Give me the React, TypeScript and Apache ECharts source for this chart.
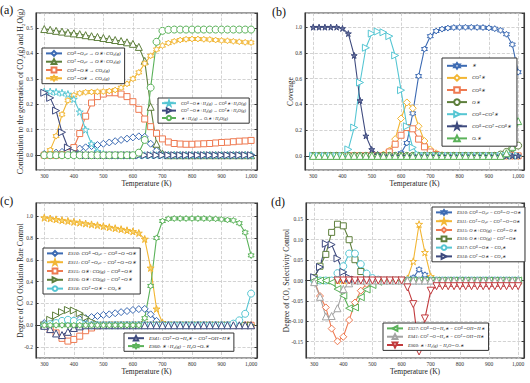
import { useEffect, useRef } from "react";
import * as echarts from "echarts";

const SERIF = "Liberation Serif";

// Temperatures (K)
const T = [300, 320, 340, 360, 380, 400, 420, 440, 460, 480, 500, 520, 540, 560, 580, 600, 620, 640, 660, 680, 700, 720, 740, 760, 780, 800, 820, 840, 860, 880, 900, 920, 940, 960, 980, 1000];

// ---------- (a) Contribution ----------
const aNames = [
  "COᴮ∼O₅c → O∗+CO₂(g)",
  "COᵀ∼O₅c → O∗+CO₂(g)",
  "COᴮ∼O∗ → CO₂(g)",
  "COᵀ∼O∗ → CO₂(g)",
  "COᴮ∼O∗+H₂(g) → COᴮ∗+H₂O(g)",
  "COᵀ∼O∗+H₂(g) → COᵀ∗+H₂O(g)",
  "∗+H₂(g) → Oᵥ∗+H₂O(g)",
];
const aBlue = [0.005, 0.008, 0.01, 0.013, 0.017, 0.02, 0.026, 0.031, 0.036, 0.04, 0.045, 0.05, 0.055, 0.06, 0.065, 0.07, 0.074, 0.072, 0.045, 0.018, 0.003, 0, 0, 0, 0, 0, 0, 0, 0, 0, 0, 0, 0, 0, 0, 0];
const aOlive = [0.495, 0.492, 0.488, 0.485, 0.481, 0.478, 0.475, 0.471, 0.467, 0.464, 0.46, 0.456, 0.452, 0.448, 0.443, 0.437, 0.425, 0.37, 0.19, 0.045, 0.006, 0, 0, 0, 0, 0, 0, 0, 0, 0, 0, 0, 0, 0, 0, 0];
const aOrange = [0, 0, 0, 0.002, 0.01, 0.03, 0.085, 0.153, 0.205, 0.23, 0.24, 0.245, 0.245, 0.24, 0.23, 0.21, 0.18, 0.142, 0.112, 0.086, 0.064, 0.052, 0.046, 0.044, 0.043, 0.043, 0.044, 0.045, 0.046, 0.048, 0.05, 0.051, 0.053, 0.055, 0.056, 0.058];
const aYellow = [0, 0.02, 0.075, 0.16, 0.215, 0.235, 0.243, 0.247, 0.248, 0.249, 0.25, 0.252, 0.256, 0.265, 0.28, 0.3, 0.325, 0.36, 0.39, 0.415, 0.43, 0.44, 0.447, 0.452, 0.455, 0.456, 0.456, 0.455, 0.454, 0.452, 0.45, 0.449, 0.447, 0.445, 0.443, 0.442];
const aCyan = [0.25, 0.25, 0.248, 0.245, 0.24, 0.22, 0.17, 0.1, 0.045, 0.015, 0.005, 0, 0, 0, 0, 0, 0, 0, 0, 0, 0, 0, 0, 0, 0, 0, 0, 0, 0, 0, 0, 0, 0, 0, 0, 0];
const aNavy = [0.245, 0.225, 0.175, 0.09, 0.03, 0.012, 0.004, 0, 0, 0, 0, 0, 0, 0, 0, 0, 0, 0, 0, 0, 0, 0, 0, 0, 0, 0, 0, 0, 0, 0, 0, 0, 0, 0, 0, 0];
const aGreen = [0, 0, 0, 0, 0, 0, 0, 0, 0, 0, 0, 0, 0, 0, 0, 0, 0.01, 0.06, 0.265, 0.445, 0.488, 0.492, 0.493, 0.493, 0.493, 0.493, 0.493, 0.493, 0.493, 0.493, 0.493, 0.493, 0.493, 0.493, 0.493, 0.493];

// ---------- (b) Coverage ----------
const bNames = ["∗", "COᵀ∗", "COᴮ∗", "O∗", "COᴮ∼COᵀ∗", "COᴮ∼COᵀ∼COᴮ∗", "Oᵥ∗"];
const bStar = [0, 0, 0, 0, 0, 0, 0, 0, 0, 0, 0, 0, 0, 0, 0, 0.02, 0.1, 0.33, 0.62, 0.83, 0.93, 0.97, 0.985, 0.993, 0.997, 0.998, 0.999, 0.999, 0.998, 0.997, 0.994, 0.988, 0.975, 0.945, 0.865, 0.65];
const bYellow = [0, 0, 0, 0, 0, 0, 0, 0, 0, 0, 0, 0, 0.01, 0.04, 0.13, 0.29, 0.415, 0.37, 0.23, 0.115, 0.05, 0.02, 0.005, 0, 0, 0, 0, 0, 0, 0, 0, 0, 0, 0, 0, 0];
const bOrange = [0, 0, 0, 0, 0, 0, 0, 0, 0, 0, 0, 0, 0, 0.03, 0.09, 0.16, 0.22, 0.21, 0.13, 0.07, 0.03, 0.01, 0, 0, 0, 0, 0, 0, 0, 0, 0, 0, 0, 0, 0, 0];
const bOlive = [0, 0, 0, 0, 0, 0, 0, 0, 0, 0, 0, 0, 0, 0, 0, 0, 0, 0, 0, 0, 0, 0, 0, 0, 0, 0, 0, 0, 0, 0, 0, 0, 0.01, 0.03, 0.06, 0.08];
const bCyan = [0, 0, 0, 0, 0, 0, 0.05, 0.22, 0.57, 0.84, 0.95, 0.966, 0.96, 0.93, 0.78, 0.51, 0.23, 0.065, 0.01, 0, 0, 0, 0, 0, 0, 0, 0, 0, 0, 0, 0, 0, 0, 0, 0, 0];
const bNavy = [1, 1, 1, 1, 1, 0.99, 0.95, 0.78, 0.43, 0.155, 0.05, 0.01, 0, 0, 0, 0, 0, 0, 0, 0, 0, 0, 0, 0, 0, 0, 0, 0, 0, 0, 0, 0, 0, 0, 0, 0];
const bGreen = [0, 0, 0, 0, 0, 0, 0, 0, 0, 0, 0, 0, 0, 0, 0, 0, 0, 0, 0, 0, 0, 0, 0, 0, 0, 0, 0, 0, 0, 0, 0, 0, 0, 0.02, 0.07, 0.27];

// ---------- (c) Rate control ----------
const cNames = [
  "ES10: COᴮ∼O₅c = COᴮ∼O∼O∗",
  "ES11: COᵀ∼O₅c = COᵀ∼O∼O∗",
  "ES15: O∗+CO(g) = COᴮ∼O∗",
  "ES16: O∗+CO(g) = COᵀ∼O∗",
  "ES18: COᵀ∼O∗ = CO₂∗",
  "ES41: COᵀ∼O∼H₂∗ = COᵀ∼OH∼H∗",
  "ES60: ∗+H₂(g) = H₂O∼Oᵥ∗",
];
const cBlue = [0.02, 0.015, 0.02, 0.03, 0.035, 0.045, 0.055, 0.065, 0.075, 0.085, 0.095, 0.1, 0.11, 0.12, 0.13, 0.14, 0.148, 0.15, 0.1, 0.04, 0.01, 0, 0, 0, 0, 0, 0, 0, 0, 0, 0, 0, 0, 0, 0, 0];
const cYellow = [0.985, 0.978, 0.97, 0.962, 0.955, 0.947, 0.94, 0.932, 0.924, 0.916, 0.907, 0.898, 0.889, 0.88, 0.87, 0.86, 0.845, 0.79, 0.525, 0.15, 0.025, 0, 0, 0, 0, 0, 0, 0, 0, 0, 0, 0, 0, 0, 0, 0];
const cOrange = [0, -0.04, -0.07, -0.12, -0.145, -0.13, -0.1, -0.05, -0.025, -0.005, 0, 0, 0, 0, 0, 0, 0, 0, 0, 0, 0, 0, 0, 0, 0, 0, 0, 0, 0, 0, 0, 0, 0, 0, 0, 0];
const cOlive = [0, 0.05, 0.09, 0.12, 0.14, 0.135, 0.11, 0.07, 0.035, 0.01, 0, 0, 0, 0, 0, 0, 0, 0, 0, 0, 0, 0, 0, 0, 0, 0, 0, 0, 0, 0, 0, 0, 0, 0, 0, 0];
const cCyan = [0, 0.01, 0.02, 0.04, 0.05, 0.04, 0.02, 0.005, 0, 0, 0, 0, 0, 0, 0, 0, 0, 0, 0, 0, 0, 0, 0, 0, 0, 0, 0, 0, 0, 0, 0, 0, 0.015, 0.045, 0.105, 0.29];
const cNavy = [-0.005, -0.035, -0.075, -0.09, -0.06, -0.025, -0.01, 0, 0, 0, 0, 0, 0, 0, 0, 0, 0, 0, 0, 0, 0, 0, 0, 0, 0, 0, 0, 0, 0, 0, 0, 0, 0, 0, 0, 0];
const cGreen = [0, 0, 0, 0, 0, 0, 0, 0, 0, 0, 0, 0, 0, 0, 0, 0, 0, 0.065, 0.36, 0.8, 0.955, 0.975, 0.978, 0.978, 0.978, 0.978, 0.978, 0.978, 0.977, 0.975, 0.97, 0.965, 0.96, 0.935, 0.85, 0.64];

// ---------- (d) Selectivity control ----------
const Z = "\u200b";
const dNames = [
  "ES10: COᴮ∼O₅c = COᴮ∼O∼O∗" + Z,
  "ES11: COᵀ∼O₅c = COᵀ∼O∼O∗" + Z,
  "ES15: O∗+CO(g) = COᴮ∼O∗" + Z,
  "ES16: O∗+CO(g) = COᵀ∼O∗" + Z,
  "ES17: COᴮ∼O∗ = CO₂∗",
  "ES18: COᵀ∼O∗ = CO₂∗" + Z,
  "ES37: COᴮ∼O∼H₂∗ = COᴮ∼OH∼H∗",
  "ES41: COᵀ∼O∼H₂∗ = COᵀ∼OH∼H∗" + Z,
  "ES60: ∗+H₂(g) = H₂O∼Oᵥ∗" + Z,
];
const dBlue = [0, 0, 0, 0, 0, 0, 0, 0, 0, 0, 0, 0, 0, 0, 0, 0, 0, 0.007, 0.027, 0.014, 0.002, 0, 0, 0, 0, 0, 0, 0, 0, 0, 0, 0, 0, 0, 0, 0];
const dYellow = [0, 0, 0, 0, 0, 0, 0, 0, 0, 0, 0, 0, 0, 0, 0, 0, 0.005, 0.047, 0.138, 0.069, 0.01, 0, 0, 0, 0, 0, 0, 0, 0, 0, 0, 0, 0, 0, 0, 0];
const dOrange = [0, -0.038, -0.066, -0.118, -0.149, -0.138, -0.097, -0.054, -0.025, -0.008, 0, 0, 0, 0, 0, 0, 0, 0, 0, 0, 0, 0, 0, 0, 0, 0, 0, 0, 0, 0, 0, 0, 0, 0, 0, 0];
const dOlive = [0.007, 0.035, 0.064, 0.118, 0.138, 0.134, 0.1, 0.051, 0.022, 0.007, 0, 0, 0, 0, 0, 0, 0, 0, 0, 0, 0, 0, 0, 0, 0, 0, 0, 0, 0, 0, 0, 0, 0, 0, 0, 0];
const dCyan = [0, 0, 0, 0, 0.018, 0.035, 0.066, 0.066, 0.04, 0.017, 0.006, 0.002, 0, 0, 0, 0, 0, 0, 0, 0, 0, 0, 0, 0, 0, 0, 0, 0, 0, 0, 0, 0, 0, 0, 0, 0];
const dNavy = [0.008, 0.033, 0.09, 0.088, 0.054, 0.021, 0.007, 0.002, 0, 0, 0, 0, 0, 0, 0, 0, 0, 0, 0, 0, 0, 0, 0, 0, 0, 0, 0, 0, 0, 0, 0, 0, 0, 0, 0, 0];
const dGreen = [0, 0, 0, -0.005, -0.021, -0.037, -0.068, -0.066, -0.041, -0.022, -0.011, -0.003, 0, 0, 0, 0, 0, 0, 0, 0, 0, 0, 0, 0, 0, 0, 0, 0, 0, 0, 0, 0, 0, 0, 0, 0];
const dGray = [-0.004, -0.04, -0.088, -0.087, -0.068, -0.021, -0.007, 0, 0, 0, 0, 0, 0, 0, 0, 0, 0, 0, 0, 0, 0, 0, 0, 0, 0, 0, 0, 0, 0, 0, 0, 0, 0, 0, 0, 0];
const dRed = [null, null, null, null, 0, 0, 0, 0, 0, 0, 0, 0, 0, 0, 0, 0, -0.017, -0.058, -0.174, -0.093, -0.025, -0.014, -0.014, -0.014, -0.014, -0.014, -0.014, -0.014, -0.014, -0.014, -0.014, -0.014, -0.014, -0.014, -0.014, -0.014];

// axis titles
const xTitle = "Temperature (K)";
const yTitles = [
  "Contribution to the generation of CO₂(g) and H₂O(g)",
  "Coverage",
  "Degree of CO Oxidation Rate Control",
  "Degree of CO₂ Selectivity Control",
];

// colours
const BLUE = "#3D6BB3";
const OLIVE = "#5E7F3C";
const ORANGE = "#EE7A52";
const YELLOW = "#F2B634";
const CYAN = "#56C6D3";
const NAVY = "#3E4A7E";
const GREEN = "#5BB25A";
const GRAY = "#A3A3A3";
const RED = "#C13A3D";

// markers
const HEX = "path://M10,0L12.89,5L18.66,5L15.77,10L18.66,15L12.89,15L10,20L7.11,15L1.34,15L4.23,10L1.34,5L7.11,5Z";
const STAR = "path://M10,0L12.25,6.91L19.51,6.91L13.63,11.18L15.88,18.09L10,13.82L4.12,18.09L6.37,11.18L0.49,6.91L7.75,6.91Z";
const TRI_R = "path://M0,0L10,5L0,10Z";
const TRI_L = "path://M10,0L0,5L10,10Z";
const TRI_D = "path://M0,0L10,0L5,10Z";

const mk = (name: string, vals: (number | null)[], color: string, symbol: string, g: number, fill = "#fff", size = 6) => ({
  type: "line",
  name,
  xAxisIndex: g * 2,
  yAxisIndex: g * 2,
  data: T.map((t, i) => [t, vals[i]]),
  symbol,
  symbolSize: size,
  showSymbol: true,
  lineStyle: { color, width: 1.1 },
  itemStyle: { color: fill, borderColor: color, borderWidth: 1 },
  emphasis: { disabled: true },
});

const XMIN = 272;
const XMAX = 1020;
const AXC = "#3a3a3a";

const axesFor = (g: number, ymin: number, ymax: number, ysplit: number, ydec: number) => {
  const xs = [
    {
      gridIndex: g, type: "value", min: XMIN, max: XMAX, splitNumber: 7, position: "bottom",
      name: xTitle, nameLocation: "middle", nameGap: 8,
      nameTextStyle: { fontFamily: SERIF, fontSize: 7.5, color: "#222" },
      axisLine: { show: true, lineStyle: { color: AXC, width: 1.1 } },
      axisTick: { show: true, inside: true, length: 2.5, lineStyle: { color: AXC } },
      axisLabel: { fontFamily: SERIF, fontSize: 5.5, color: "#333", margin: 2.5, showMinLabel: false, showMaxLabel: false },
      splitLine: { show: true, lineStyle: { type: "dashed", color: "#c8c8c8", width: 0.8 } },
    },
    {
      gridIndex: g, type: "value", min: XMIN, max: XMAX, splitNumber: 7, position: "top",
      axisLine: { show: true, lineStyle: { color: AXC, width: 1.1 } },
      axisTick: { show: true, inside: true, length: 2.5, lineStyle: { color: AXC } },
      axisLabel: { show: false },
      splitLine: { show: false },
    },
  ];
  const ys = [
    {
      gridIndex: g, type: "value", min: ymin, max: ymax, splitNumber: ysplit, position: "left",
      axisLine: { show: true, lineStyle: { color: AXC, width: 1.1 } },
      axisTick: { show: true, inside: true, length: 2.5, lineStyle: { color: AXC } },
      axisLabel: { fontFamily: SERIF, fontSize: 5.5, color: "#333", margin: 3, showMinLabel: false, showMaxLabel: false, formatter: (v: number) => v.toFixed(ydec) },
      splitLine: { show: true, lineStyle: { type: "dashed", color: "#c8c8c8", width: 0.8 } },
    },
    {
      gridIndex: g, type: "value", min: ymin, max: ymax, splitNumber: ysplit, position: "right",
      axisLine: { show: true, lineStyle: { color: AXC, width: 1.1 } },
      axisTick: { show: true, inside: true, length: 2.5, lineStyle: { color: AXC } },
      axisLabel: { show: false },
      splitLine: { show: false },
    },
  ];
  return { xs, ys };
};

const leg = (names: string[], left: number, top: number, itemHeight: number, itemGap: number, itemWidth: number, fontSize: number, padding: number[]) => ({
  data: names,
  left, top,
  orient: "vertical",
  itemWidth, itemHeight, itemGap,
  padding,
  borderColor: "#333", borderWidth: 1, borderRadius: 0,
  backgroundColor: "#fff",
  selectedMode: false,
  textStyle: { fontSize, fontStyle: "italic", fontFamily: SERIF, color: "#222" },
});

const yTitle = (text: string, x: number, y: number, size: number) => ({
  type: "text", x, y, rotation: Math.PI / 2,
  style: { text, font: `${size}px ${SERIF}`, fill: "#222", align: "center", verticalAlign: "middle" },
});

export default function App() {
  const ref = useRef<HTMLDivElement>(null);
  useEffect(() => {
    if (!ref.current) return;
    const chart = echarts.init(ref.current, null, { renderer: "svg" });
    const A = axesFor(0, -0.058, 0.558, 6, 1);
    const B = axesFor(1, -0.11, 1.11, 6, 1);
    const C = axesFor(2, -0.3, 1.12, 7, 1);
    const D = axesFor(3, -0.19, 0.19, 8, 2);
    const gridBase = { show: true, borderColor: AXC, borderWidth: 1.1, backgroundColor: "#fff" };
    const option = {
      animation: false,
      grid: [
        { ...gridBase, left: 36, top: 13, width: 221, height: 157 },
        { ...gridBase, left: 305, top: 13, width: 219, height: 157 },
        { ...gridBase, left: 36, top: 203, width: 221, height: 155 },
        { ...gridBase, left: 306, top: 203, width: 218, height: 155 },
      ],
      xAxis: [...A.xs, ...B.xs, ...C.xs, ...D.xs],
      yAxis: [...A.ys, ...B.ys, ...C.ys, ...D.ys],
      legend: [
        leg(aNames.slice(0, 4), 42, 48, 6, 1.5, 16, 5, [2, 4, 2, 3]),
        leg(aNames.slice(4), 158, 98, 5.5, 1, 14, 4.3, [2, 3, 2, 3]),
        leg(bNames, 442, 58, 7, 4.5, 20, 5, [4, 6, 4, 4]),
        leg(cNames.slice(0, 5), 43, 248, 6, 2, 16, 5, [2, 4, 2, 3]),
        leg(cNames.slice(5), 124, 333, 5.5, 1.5, 16, 5, [2, 4, 2, 3]),
        leg(dNames.slice(0, 6), 432, 207, 6, 2, 16, 4.6, [2, 4, 2, 3]),
        leg(dNames.slice(6), 383, 323, 6, 1.5, 16, 4.6, [2, 4, 2, 3]),
      ],
      series: [
        mk(aNames[0], aBlue, BLUE, "diamond", 0, "#fff", 7),
        mk(aNames[1], aOlive, OLIVE, "triangle", 0, "#fff", 7),
        mk(aNames[2], aOrange, ORANGE, "rect", 0),
        mk(aNames[3], aYellow, YELLOW, HEX, 0),
        mk(aNames[4], aCyan, CYAN, STAR, 0, "#fff", 7),
        mk(aNames[5], aNavy, NAVY, TRI_R, 0, "#fff", 7),
        mk(aNames[6], aGreen, GREEN, "circle", 0, "#fff", 7),

        mk(bNames[0], bStar, BLUE, HEX, 1, "#fff", 6),
        mk(bNames[1], bYellow, YELLOW, "diamond", 1, "#fff", 7),
        mk(bNames[2], bOrange, ORANGE, "rect", 1),
        mk(bNames[3], bOlive, OLIVE, "circle", 1, "#fff", 7),
        mk(bNames[4], bCyan, CYAN, TRI_R, 1, "#fff", 7),
        mk(bNames[5], bNavy, NAVY, STAR, 1, "#6a74a0", 6),
        mk(bNames[6], bGreen, GREEN, "triangle", 1, "#fff", 7),

        mk(cNames[0], cBlue, BLUE, "diamond", 2, "#fff", 7),
        mk(cNames[1], cYellow, YELLOW, STAR, 2, "#F8D36E", 7),
        mk(cNames[2], cOrange, ORANGE, "rect", 2),
        mk(cNames[3], cOlive, OLIVE, TRI_R, 2, "#fff", 7),
        mk(cNames[4], cCyan, CYAN, "circle", 2, "#fff", 7),
        mk(cNames[5], cNavy, NAVY, "triangle", 2, "#fff", 7),
        mk(cNames[6], cGreen, GREEN, HEX, 2, "#fff", 6),

        mk(dNames[0], dBlue, BLUE, HEX, 3, "#fff", 6),
        mk(dNames[1], dYellow, YELLOW, STAR, 3, "#fff", 7),
        mk(dNames[2], dOrange, ORANGE, "diamond", 3, "#fff", 7),
        mk(dNames[3], dOlive, OLIVE, "rect", 3),
        mk(dNames[4], dCyan, CYAN, "circle", 3, "#fff", 7),
        mk(dNames[5], dNavy, NAVY, TRI_R, 3, "#fff", 7),
        mk(dNames[6], dGreen, GREEN, TRI_L, 3, "#fff", 7),
        mk(dNames[7], dGray, GRAY, "triangle", 3, "#fff", 7),
        mk(dNames[8], dRed, RED, TRI_D, 3, "#fff", 7),
      ],
      graphic: [
        { type: "text", left: 0, top: 4, style: { text: "(a)", font: `12px ${SERIF}`, fill: "#111" } },
        { type: "text", left: 272, top: 6, style: { text: "(b)", font: `12px ${SERIF}`, fill: "#111" } },
        { type: "text", left: 0, top: 195, style: { text: "(c)", font: `12px ${SERIF}`, fill: "#111" } },
        { type: "text", left: 271, top: 196, style: { text: "(d)", font: `12px ${SERIF}`, fill: "#111" } },
        yTitle(yTitles[0], 20, 91.5, 7.8),
        yTitle(yTitles[1], 290, 91.5, 7.5),
        yTitle(yTitles[2], 20, 280.5, 7.5),
        yTitle(yTitles[3], 286, 280.5, 7.5),
      ],
    };
    chart.setOption(option as any);
    return () => chart.dispose();
  }, []);
  return <div ref={ref} style={{ position: "absolute", left: 0, top: 0, width: 530, height: 383, background: "#fff" }} />;
}
